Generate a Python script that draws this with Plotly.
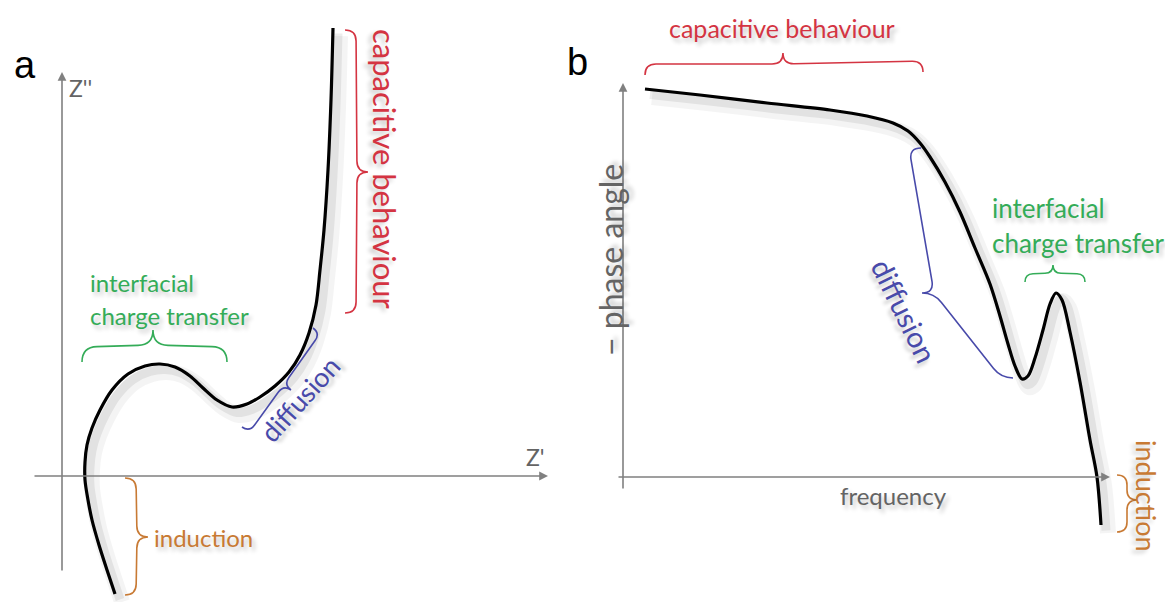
import numpy as np
import plotly.graph_objects as go

# ---- Panel a: Nyquist schematic (arbitrary units) ----
nyq_zre = [5.3, 4.5, 3.7, 3.0, 2.6, 2.3, 2.3, 2.5, 3.0, 3.8, 5.0, 6.6, 8.3, 9.8, 11.3,
           12.8, 14.1, 15.5, 17.0, 18.5, 19.8, 21.3, 22.7, 23.8, 24.7, 25.4, 25.8,
           26.2, 26.6, 26.9, 27.1]
nyq_zim = [-11.8, -9.4, -6.9, -4.4, -2.4, -0.4, 1.4, 3.1, 4.8, 6.6, 8.6, 10.2, 11.0, 11.2, 10.9,
           10.0, 8.8, 7.6, 6.9, 7.2, 7.9, 9.0, 10.4, 12.1, 14.3, 17.1, 20.6,
           24.6, 30.6, 37.6, 44.8]

# ---- Panel b: Bode phase schematic (arbitrary units) ----
bode_freq = [2.2, 7.7, 14.4, 20.7, 24.4, 27.0, 28.5, 29.7, 30.7, 32.2, 33.7, 35.2, 36.7,
             37.7, 38.5, 39.2, 39.9, 40.5, 41.2, 42.0, 42.7, 43.3, 43.9, 44.7, 45.7,
             46.7, 47.4, 47.8]
bode_phase = [38.8, 38.2, 37.4, 36.7, 36.1, 35.4, 34.6, 33.4, 32.0, 29.5, 26.5, 22.9, 19.3,
              16.1, 13.3, 11.1, 9.8, 10.1, 11.9, 14.7, 17.3, 18.4, 17.7, 14.5, 9.5,
              3.7, 0.0, -4.8]

RED = "rgb(212,52,66)"
GREEN = "rgb(52,172,88)"
BLUE = "rgb(72,74,170)"
ORANGE = "rgb(200,122,52)"
GRAY_TXT = "rgb(100,100,100)"
AXIS = "rgb(128,128,128)"
FONT = "Lato"
SHADOW = "3px 4px 4px rgba(0,0,0,0.22)"


def brace_path(a, b, tip, normal, q):
    """SVG path for a curly brace from a to b whose point sits at tip."""
    a = np.asarray(a, float)
    b = np.asarray(b, float)
    t = np.asarray(tip, float)
    n = np.asarray(normal, float)
    n = n / np.linalg.norm(n)
    k = t - n * q
    a1 = a + n * q
    b1 = b + n * q
    u1 = (k - a1) / np.linalg.norm(k - a1)
    u2 = (b1 - k) / np.linalg.norm(b1 - k)
    p = lambda v: f"{v[0]:.3f},{v[1]:.3f}"
    return (f"M{p(a)} Q{p(a1)} {p(a1 + u1 * q)} L{p(k - u1 * q)} Q{p(k)} {p(t)} "
            f"Q{p(k)} {p(k + u2 * q)} L{p(b1 - u2 * q)} Q{p(b1)} {p(b)}")


fig = go.Figure()


def add_curve(x, y, xa, ya):
    xs = np.asarray(x)
    ys = np.asarray(y)
    # soft drop shadow
    for w, dx, dy, c in [(16, 0.7, -0.8, "rgba(0,0,0,0.045)"),
                         (9, 0.5, -0.55, "rgba(0,0,0,0.07)")]:
        fig.add_trace(go.Scatter(x=xs + dx, y=ys + dy, mode="lines", xaxis=xa, yaxis=ya,
                                 line=dict(color=c, width=w, shape="spline", smoothing=0.9),
                                 hoverinfo="skip"))
    fig.add_trace(go.Scatter(x=xs, y=ys, mode="lines", xaxis=xa, yaxis=ya,
                             line=dict(color="black", width=3.2, shape="spline", smoothing=0.9)))


add_curve(nyq_zre, nyq_zim, "x", "y")
add_curve(bode_freq, bode_phase, "x2", "y2")

# braces: (panel, start, end, tip, normal, hook size, colour)
braces = [
    ("a", (28.3, 44.6), (28.3, 16.3), (30.6, 30.4), (1, 0), 1.1, RED),
    ("a", (2.0, 11.4), (16.5, 11.4), (9.1, 14.6), (0, 1), 1.5, GREEN),
    ("a", (25.1, 14.8), (18.0, 4.9), (22.9, 8.6), (0.813, -0.583), 0.9, BLUE),
    ("a", (6.3, -0.2), (6.3, -11.9), (8.6, -6.1), (1, 0), 1.1, ORANGE),
    ("b", (2.2, 40.2), (30.0, 40.5), (16.0, 42.4), (0, 1), 1.1, RED),
    ("b", (29.8, 32.9), (39.0, 9.9), (29.9, 18.4), (-1, 0), 1.2, BLUE),
    ("b", (40.2, 19.5), (46.2, 19.5), (43.0, 21.2), (0, 1), 0.8, GREEN),
    ("b", (49.4, 0.2), (49.4, -5.5), (51.4, -2.3), (1, 0), 1.0, ORANGE),
]
shapes = []
for panel, a, b, t, n, q, col in braces:
    xr, yr = ("x", "y") if panel == "a" else ("x2", "y2")
    shapes.append(dict(type="path", path=brace_path(a, b, t, n, q), xref=xr, yref=yr,
                       line=dict(color=col, width=1.6)))

annotations = []


def arrow(xr, yr, tail, head):
    annotations.append(dict(xref=xr, yref=yr, axref=xr, ayref=yr, x=head[0], y=head[1],
                            ax=tail[0], ay=tail[1], text="", showarrow=True,
                            arrowhead=2, arrowsize=1.1, arrowwidth=1.6, arrowcolor=AXIS))


# axes drawn as arrows
arrow("x", "y", (0, -9.6), (0, 40.4))
arrow("x", "y", (-2.9, 0), (48.6, 0))
arrow("x2", "y2", (0, -1.3), (0, 39.4))
arrow("x2", "y2", (-0.6, 0), (48.7, 0))


def label(xr, yr, x, y, text, color, size, angle=0, xanchor="center", shadow=SHADOW):
    annotations.append(dict(xref=xr, yref=yr, x=x, y=y, text=text, showarrow=False,
                            textangle=angle, xanchor=xanchor, yanchor="middle",
                            font=dict(family=FONT, size=size, color=color, shadow=shadow)))


# panel a labels
label("x", "y", 1.8, 38.8, "Z''", GRAY_TXT, 23, shadow="none")
label("x", "y", 47.3, 1.9, "Z'", GRAY_TXT, 23, shadow="none")
label("x", "y", 2.6, 19.4, "interfacial", GREEN, 24, xanchor="left")
label("x", "y", 2.6, 16.1, "charge transfer", GREEN, 24, xanchor="left")
label("x", "y", 23.7, 7.7, "diffusion", BLUE, 27, angle=-48)
label("x", "y", 9.0, -6.1, "induction", ORANGE, 24, xanchor="left")
label("x", "y", 32.3, 30.7, "capacitive behaviour", RED, 31, angle=90)

# panel b labels
label("x2", "y2", 15.9, 44.9, "capacitive behaviour", RED, 25)
label("x2", "y2", -1.3, 21.7, "− phase angle", GRAY_TXT, 32, angle=-90)
label("x2", "y2", 27.0, -1.8, "frequency", GRAY_TXT, 24)
label("x2", "y2", 28.2, 16.7, "diffusion", BLUE, 29, angle=64)
label("x2", "y2", 36.7, 26.9, "interfacial", GREEN, 26, xanchor="left")
label("x2", "y2", 36.7, 23.4, "charge transfer", GREEN, 26, xanchor="left")
label("x2", "y2", 52.4, -1.9, "induction", ORANGE, 27, angle=90)

# panel letters
for letter, px, py in [("a", 25, 65), ("b", 577, 62)]:
    annotations.append(dict(xref="paper", yref="paper", x=px / 1165, y=1 - py / 602,
                            text=letter, showarrow=False, xanchor="center", yanchor="middle",
                            font=dict(family="Liberation Sans, Arial", size=38, color="black")))

hidden = dict(visible=False, showgrid=False, zeroline=False, fixedrange=True)
fig.update_layout(
    width=1165, height=602,
    margin=dict(l=0, r=0, t=0, b=0),
    paper_bgcolor="white", plot_bgcolor="white",
    showlegend=False,
    xaxis=dict(domain=[0, 560 / 1165], range=[-6.2, 49.8], **hidden),
    yaxis=dict(domain=[0, 1], range=[-12.6, 47.6], anchor="x", **hidden),
    xaxis2=dict(domain=[560 / 1165, 1], range=[-6.3, 54.2], anchor="y2", **hidden),
    yaxis2=dict(domain=[0, 1], range=[-12.5, 47.7], anchor="x2", **hidden),
    shapes=shapes,
    annotations=annotations,
)

fig.write_html("out.html")
